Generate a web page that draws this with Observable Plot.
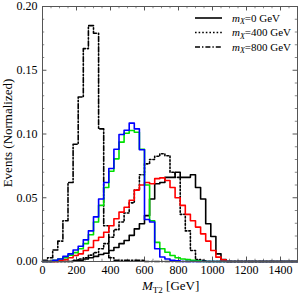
<!DOCTYPE html>
<html><head><meta charset="utf-8">
<script src="https://cdn.jsdelivr.net/npm/d3@7"></script>
<script src="https://cdn.jsdelivr.net/npm/@observablehq/plot@0.6"></script>
<style>body{margin:0;background:#fff} svg{display:block}</style>
</head><body><div id="chart"></div>
<script>
// Histogram bins: 30 GeV wide starting at 0
const binWidth = 30;
const xTicks = [0, 200, 400, 600, 800, 1000, 1200, 1400];
const yTicks = [0.00, 0.05, 0.10, 0.15, 0.20];
const legendLabels = ["0 GeV", "400 GeV", "800 GeV"];

// m_X = 0 GeV (solid black)
const mx0 = [0,0,0,0,0,0,0.0005,0.001,0.002,0.003,0.004,0.0055,0.0065,0.0086,0.011,0.014,0.0165,0.0205,0.0256,0.0296,0.036,0.049,0.061,0.062,0.066,0.066,0.070,0.066,0.066,0.068,0.058,0.049,0.0296,0.0196,0.006,0.0015,0];
// m_X = 400 GeV (dotted black)
const mx400 = [0,0,0,0,0,0,0.001,0.002,0.003,0.005,0.007,0.010,0.014,0.019,0.025,0.031,0.038,0.046,0.056,0.068,0.0766,0.080,0.0825,0.0845,0.083,0.070,0.066,0.037,0.024,0.0086,0.0015,0.001,0];
// m_X = 800 GeV (dash-dot black)
const mx800 = [0.001,0.003,0.009,0.016,0.032,0.062,0.092,0.129,0.167,0.185,0.179,0.104,0.028,0.003,0.001,0.001,0.001,0.001,0.001,0.001,0];
// red
const redVals = [0,0,0,0.0005,0.0015,0.003,0.0047,0.006,0.0086,0.011,0.0165,0.019,0.023,0.028,0.0335,0.0387,0.0426,0.048,0.056,0.060,0.062,0.061,0.065,0.0656,0.0635,0.058,0.050,0.044,0.037,0.032,0.027,0.0217,0.016,0.0086,0.0034,0.0013,0];
// green
const greenVals = [0,0,0.001,0.002,0.003,0.005,0.007,0.010,0.014,0.021,0.031,0.044,0.058,0.0708,0.0805,0.0936,0.1006,0.1027,0.1014,0.088,0.060,0.032,0.015,0.010,0.0073,0.0047,0.003,0.002,0.0015,0.001,0.0005,0];
// blue
const blueVals = [0,0,0.001,0.002,0.004,0.006,0.009,0.012,0.017,0.024,0.035,0.049,0.062,0.073,0.088,0.0996,0.103,0.1085,0.104,0.0876,0.033,0.031,0.010,0.0035,0.002,0.001,0.0005,0];

const xMax = 1500;
function steps(vals) {
  const pts = vals.map((v, i) => ({x: i * binWidth, y: v}));
  pts.push({x: xMax, y: 0});
  return pts;
}
const xMinor = d3.range(0, xMax + 1, 50).filter(d => !xTicks.includes(d));
const yMinor = d3.range(1, 20).map(d => d / 100).filter(d => !yTicks.some(t => Math.abs(t - d) < 1e-9));

const frameColor = "#555";
const lw = 1.6;
const xTk = 0.0035, xTkMinor = 0.0018;   // tick lengths in y units
const yTk = 26, yTkMinor = 13;           // tick lengths in x units

const plot = Plot.plot({
  width: 298, height: 296,
  marginLeft: 42, marginRight: 1, marginTop: 6, marginBottom: 35,
  x: {domain: [0, xMax]},
  y: {domain: [0, 0.2]},
  style: {fontFamily: "'Liberation Serif', 'DejaVu Serif', serif", fontSize: "12px", background: "white", color: "black"},
  marks: [
    Plot.axisX(xTicks, {tickSize: 0, tickPadding: 4, label: null, tickFormat: d => String(d), fontSize: 12}),
    Plot.axisY(yTicks, {tickSize: 0, tickPadding: 5, label: null, tickFormat: d3.format(".2f"), fontSize: 12}),
    // inward ticks on all four sides
    Plot.ruleX(xTicks, {y1: 0, y2: xTk, stroke: frameColor}),
    Plot.ruleX(xTicks, {y1: 0.2, y2: 0.2 - xTk, stroke: frameColor}),
    Plot.ruleX(xMinor, {y1: 0, y2: xTkMinor, stroke: frameColor, strokeWidth: 0.7}),
    Plot.ruleX(xMinor, {y1: 0.2, y2: 0.2 - xTkMinor, stroke: frameColor, strokeWidth: 0.7}),
    Plot.ruleY(yTicks, {x1: 0, x2: yTk, stroke: frameColor}),
    Plot.ruleY(yTicks, {x1: xMax, x2: xMax - yTk, stroke: frameColor}),
    Plot.ruleY(yMinor, {x1: 0, x2: yTkMinor, stroke: frameColor, strokeWidth: 0.7}),
    Plot.ruleY(yMinor, {x1: xMax, x2: xMax - yTkMinor, stroke: frameColor, strokeWidth: 0.7}),
    // histograms
    Plot.line(steps(mx0), {x: "x", y: "y", curve: "step-after", stroke: "black", strokeWidth: lw}),
    Plot.line(steps(mx400), {x: "x", y: "y", curve: "step-after", stroke: "black", strokeWidth: lw, strokeDasharray: "1.6,2"}),
    Plot.line(steps(mx800), {x: "x", y: "y", curve: "step-after", stroke: "black", strokeWidth: lw, strokeDasharray: "5,2,1.4,2"}),
    Plot.line(steps(redVals), {x: "x", y: "y", curve: "step-after", stroke: "#ff0000", strokeWidth: lw}),
    Plot.line(steps(greenVals), {x: "x", y: "y", curve: "step-after", stroke: "#00e000", strokeWidth: lw}),
    Plot.line(steps(blueVals), {x: "x", y: "y", curve: "step-after", stroke: "#0000ff", strokeWidth: lw}),
    Plot.frame({stroke: frameColor})
  ]
});

const svg = d3.select(plot);
const font = "'Liberation Serif', 'DejaVu Serif', serif";
// y axis label
svg.append("text")
  .attr("transform", "translate(12,133) rotate(-90)")
  .attr("text-anchor", "middle")
  .attr("font-family", font).attr("font-size", 13)
  .text("Events (Normalized)");
// x axis label with subscript
const xl = svg.append("text")
  .attr("x", 142).attr("y", 290)
  .attr("text-anchor", "start")
  .attr("font-family", font).attr("font-size", 13);
xl.append("tspan").attr("font-style", "italic").text("M");
xl.append("tspan").attr("font-size", 9).attr("dy", 3).text("T2");
xl.append("tspan").attr("dy", -3).text(" [GeV]");

// legend
const legendDash = [null, "1.6,2", "5,2,1.4,2"];
legendLabels.forEach((lab, i) => {
  const y = 18 + i * 14.5;
  svg.append("line")
    .attr("x1", 195).attr("x2", 222).attr("y1", y).attr("y2", y)
    .attr("stroke", "black").attr("stroke-width", lw)
    .attr("stroke-dasharray", legendDash[i]);
  const t = svg.append("text")
    .attr("x", 232).attr("y", y + 3.5)
    .attr("text-anchor", "start")
    .attr("font-family", font).attr("font-size", 11);
  t.append("tspan").attr("font-style", "italic").text("m");
  t.append("tspan").attr("font-style", "italic").attr("font-size", 8).attr("dy", 2.5).text("X");
  t.append("tspan").attr("dy", -2.5).text("=" + lab);
});

document.getElementById("chart").appendChild(plot);
</script>
</body></html>
